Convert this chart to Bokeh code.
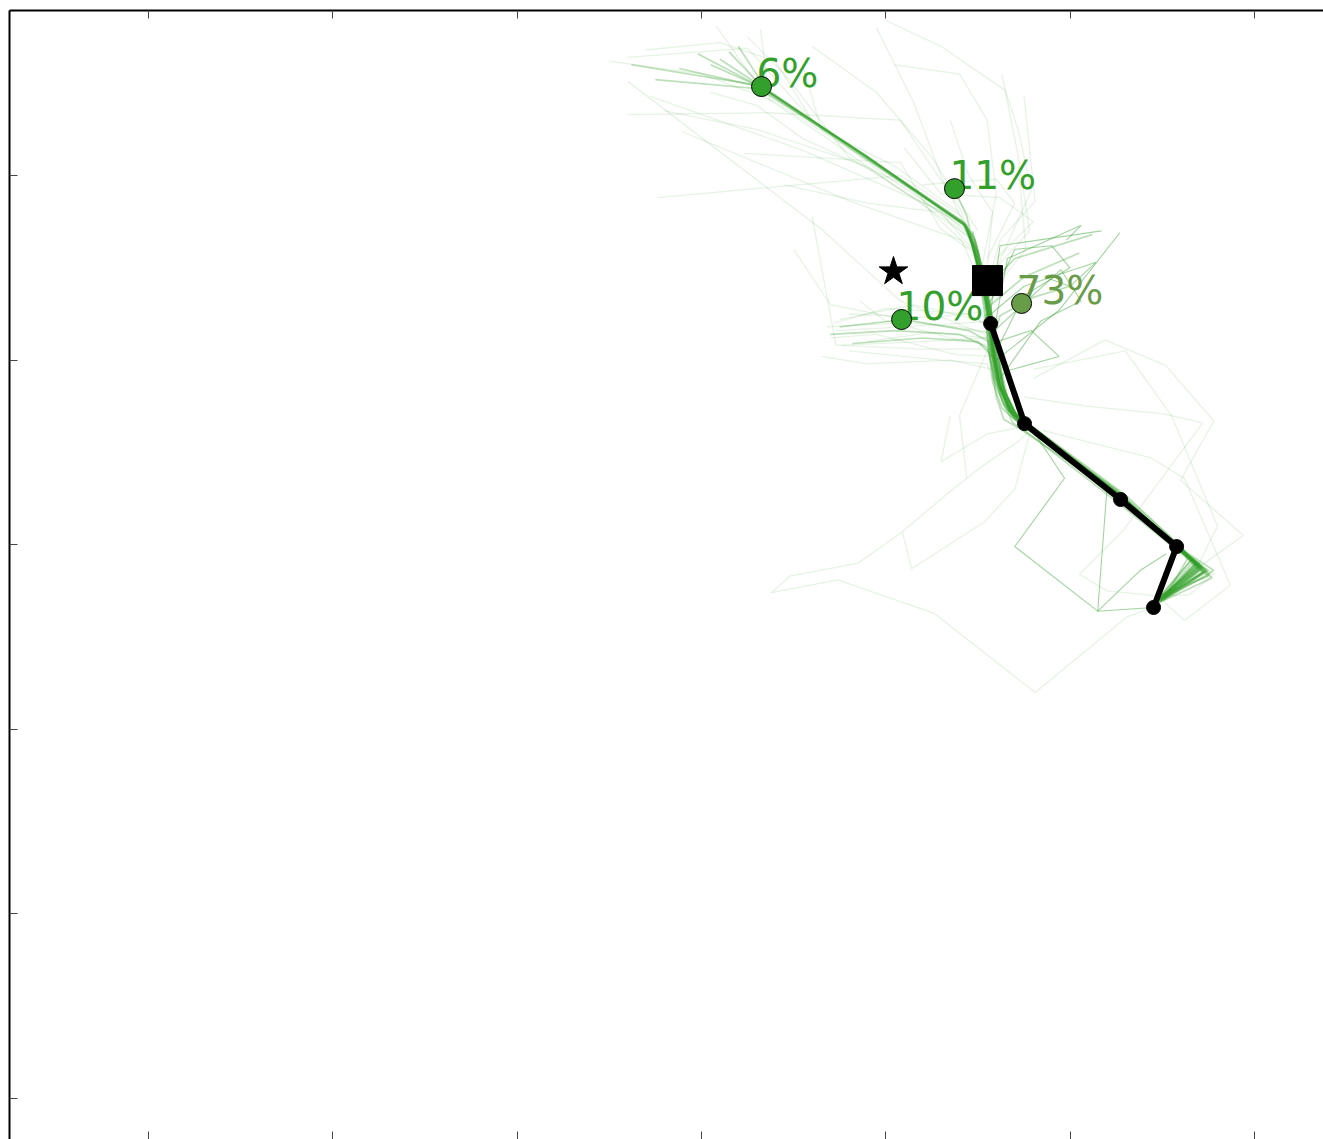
from bokeh.plotting import figure
from bokeh.models import Range1d, LinearAxis, FixedTicker
from bokeh.core.properties import value
from bokeh.embed import file_html
from bokeh.resources import INLINE

GREEN = "#33a02c"

# ---- data -------------------------------------------------------------
x_ticks = [0, 1, 2, 3, 4, 5, 6]
y_ticks = [0, 1, 2, 3, 4, 5]

# mean path (black)
path_x = [4.569, 4.753, 5.274, 5.578, 5.453]
path_y = [4.198, 3.656, 3.245, 2.990, 2.660]

square_x, square_y = [4.552], [4.431]
star_x, star_y = [4.042], [4.480]

cluster_x = [3.326, 4.373, 4.086, 4.737]
cluster_y = [5.482, 4.929, 4.220, 4.307]
cluster_labels = ["6%", "11%", "10%", "73%"]
cluster_colors = [GREEN, GREEN, GREEN, "#699c48"]

# dense bundle of trajectories
bundle_xs = [
    [3.10, 3.33, 3.88, 4.43, 4.48, 4.50, 4.54, 4.58, 4.62, 4.69, 4.79, 5.27, 5.58, 5.70, 5.49],
    [2.98, 3.34, 3.90, 4.42, 4.47, 4.51, 4.55, 4.59, 4.63, 4.70, 4.80, 5.28, 5.59, 5.72, 5.50],
    [3.20, 3.35, 3.87, 4.44, 4.49, 4.52, 4.55, 4.57, 4.61, 4.68, 4.77, 5.26, 5.57, 5.68, 5.48],
    [2.88, 3.32, 3.89, 4.43, 4.49, 4.52, 4.56, 4.60, 4.64, 4.71, 4.82, 5.29, 5.58, 5.73, 5.51],
    [4.37, 4.44, 4.49, 4.53, 4.57, 4.62, 4.69, 4.78, 5.27, 5.58, 5.69, 5.49],
    [3.75, 4.10, 4.45, 4.56, 4.61, 4.68, 4.78, 5.26, 5.57, 5.71, 5.48],
    [3.82, 4.20, 4.50, 4.58, 4.63, 4.70, 4.80, 5.27, 5.58, 5.70, 5.50],
    [5.12, 4.70, 4.55, 4.58, 4.62, 4.69, 4.79, 5.28, 5.59, 5.72, 5.49],
    [5.05, 4.75, 4.57, 4.59, 4.63, 4.70, 4.80, 5.27, 5.58, 5.69, 5.47],
    [4.46, 4.51, 4.55, 4.58, 4.60, 4.66, 4.76, 5.25, 5.56, 5.70, 5.49],
    [4.47, 4.52, 4.56, 4.60, 4.65, 4.72, 4.83, 5.30, 5.60, 5.74, 5.51],
    [4.50, 4.54, 4.57, 4.59, 4.62, 4.67, 4.77, 5.26, 5.57, 5.68, 5.48],
    [2.75, 3.31, 3.89, 4.43, 4.48, 4.51, 4.55, 4.58, 4.62, 4.69, 4.79, 5.27, 5.58, 5.71, 5.49],
    [2.62, 3.30, 3.88, 4.42, 4.47, 4.50, 4.53, 4.57, 4.61, 4.68, 4.78, 5.27, 5.58, 5.70, 5.49],
    [4.45, 4.50, 4.53, 4.56, 4.59, 4.65, 4.74, 5.24, 5.56, 5.66, 5.47],
    [4.48, 4.53, 4.58, 4.62, 4.66, 4.73, 4.84, 5.31, 5.61, 5.76, 5.52],
    [4.44, 4.49, 4.54, 4.57, 4.61, 4.67, 4.76, 5.25, 5.57, 5.67, 5.46],
    [4.46, 4.52, 4.57, 4.61, 4.64, 4.71, 4.81, 5.29, 5.59, 5.75, 5.50],
    [4.49, 4.53, 4.56, 4.58, 4.61, 4.66, 4.75, 5.26, 5.57, 5.72, 5.48],
    [4.43, 4.49, 4.55, 4.60, 4.65, 4.72, 4.82, 5.29, 5.60, 5.69, 5.51],
    [3.70, 4.05, 4.40, 4.55, 4.60, 4.66, 4.76, 5.26, 5.57, 5.74, 5.49],
    [5.00, 4.80, 4.62, 4.57, 4.60, 4.67, 4.77, 5.27, 5.58, 5.70, 5.47],
    [3.05, 3.32, 3.89, 4.42, 4.47, 4.51, 4.54, 4.58, 4.62, 4.70, 4.80, 5.28, 5.59, 5.73, 5.50],
    [3.15, 3.34, 3.90, 4.44, 4.48, 4.52, 4.56, 4.60, 4.64, 4.71, 4.81, 5.28, 5.59, 5.71, 5.49],
    [4.47, 4.51, 4.54, 4.57, 4.59, 4.64, 4.74, 5.25, 5.57, 5.78, 5.45],
    [4.45, 4.50, 4.55, 4.59, 4.63, 4.70, 4.79, 5.28, 5.58, 5.64, 5.53],
    [4.48, 4.52, 4.55, 4.58, 4.62, 4.68, 4.78, 5.27, 5.58, 5.77, 5.47],
    [4.46, 4.51, 4.55, 4.58, 4.61, 4.67, 4.78, 5.27, 5.58, 5.66, 5.50],
    [4.55, 4.57, 4.60, 4.64, 4.74, 5.24, 5.55, 5.70, 5.48],
    [4.56, 4.59, 4.63, 4.69, 4.78, 5.27, 5.58, 5.75, 5.50],
    [4.54, 4.56, 4.58, 4.63, 4.72, 5.25, 5.57, 5.68, 5.47],
    [4.57, 4.60, 4.65, 4.71, 4.81, 5.30, 5.60, 5.72, 5.49],
]
bundle_ys = [
    [5.63, 5.48, 5.11, 4.73, 4.62, 4.49, 4.32, 4.08, 3.86, 3.70, 3.63, 3.26, 2.99, 2.88, 2.70],
    [5.66, 5.47, 5.10, 4.75, 4.63, 4.47, 4.30, 4.05, 3.84, 3.68, 3.62, 3.25, 2.98, 2.87, 2.71],
    [5.70, 5.47, 5.12, 4.72, 4.60, 4.46, 4.33, 4.10, 3.88, 3.72, 3.64, 3.27, 3.00, 2.90, 2.69],
    [5.58, 5.48, 5.10, 4.74, 4.64, 4.50, 4.35, 4.06, 3.83, 3.69, 3.61, 3.24, 2.98, 2.85, 2.70],
    [4.93, 4.78, 4.55, 4.38, 4.12, 3.87, 3.71, 3.63, 3.26, 2.99, 2.89, 2.70],
    [4.18, 4.22, 4.16, 4.10, 3.86, 3.70, 3.62, 3.26, 2.99, 2.87, 2.71],
    [4.09, 4.12, 4.10, 4.02, 3.83, 3.69, 3.61, 3.25, 2.98, 2.86, 2.70],
    [4.68, 4.55, 4.40, 4.10, 3.85, 3.70, 3.63, 3.26, 2.99, 2.88, 2.69],
    [4.58, 4.45, 4.30, 4.07, 3.87, 3.71, 3.63, 3.27, 3.00, 2.88, 2.70],
    [4.66, 4.48, 4.31, 4.08, 3.90, 3.75, 3.66, 3.28, 3.01, 2.90, 2.71],
    [4.70, 4.52, 4.28, 4.02, 3.82, 3.68, 3.60, 3.24, 2.97, 2.86, 2.71],
    [4.60, 4.40, 4.20, 4.00, 3.85, 3.72, 3.65, 3.27, 2.99, 2.89, 2.70],
    [5.52, 5.47, 5.11, 4.73, 4.61, 4.45, 4.29, 4.06, 3.85, 3.69, 3.62, 3.26, 2.99, 2.89, 2.70],
    [5.60, 5.49, 5.10, 4.74, 4.62, 4.48, 4.33, 4.09, 3.87, 3.71, 3.64, 3.26, 2.99, 2.87, 2.70],
    [4.68, 4.50, 4.30, 4.05, 3.88, 3.74, 3.67, 3.29, 3.01, 2.92, 2.70],
    [4.66, 4.46, 4.22, 3.98, 3.80, 3.67, 3.59, 3.23, 2.96, 2.84, 2.72],
    [4.72, 4.55, 4.35, 4.10, 3.89, 3.73, 3.65, 3.28, 3.00, 2.91, 2.68],
    [4.70, 4.48, 4.26, 4.04, 3.84, 3.70, 3.62, 3.25, 2.98, 2.83, 2.73],
    [4.62, 4.44, 4.28, 4.09, 3.91, 3.76, 3.67, 3.29, 3.00, 2.85, 2.69],
    [4.74, 4.56, 4.34, 4.03, 3.81, 3.66, 3.59, 3.24, 2.97, 2.90, 2.72],
    [4.14, 4.16, 4.14, 4.07, 3.88, 3.73, 3.65, 3.28, 3.00, 2.86, 2.70],
    [4.40, 4.34, 4.24, 4.06, 3.90, 3.74, 3.65, 3.27, 2.99, 2.89, 2.69],
    [5.60, 5.48, 5.11, 4.74, 4.63, 4.48, 4.31, 4.07, 3.86, 3.70, 3.62, 3.25, 2.98, 2.86, 2.71],
    [5.67, 5.47, 5.10, 4.73, 4.61, 4.47, 4.32, 4.07, 3.85, 3.70, 3.63, 3.26, 2.99, 2.88, 2.70],
    [4.69, 4.52, 4.33, 4.07, 3.90, 3.76, 3.68, 3.29, 3.00, 2.86, 2.67],
    [4.71, 4.50, 4.29, 4.03, 3.86, 3.71, 3.64, 3.26, 2.99, 2.93, 2.74],
    [4.64, 4.47, 4.30, 4.06, 3.87, 3.72, 3.64, 3.27, 2.99, 2.82, 2.68],
    [4.67, 4.49, 4.31, 4.06, 3.89, 3.72, 3.64, 3.26, 2.99, 2.92, 2.73],
    [4.20, 4.00, 3.80, 3.68, 3.62, 3.28, 3.02, 2.88, 2.71],
    [4.15, 3.95, 3.78, 3.66, 3.60, 3.22, 2.97, 2.86, 2.70],
    [4.25, 4.05, 3.88, 3.74, 3.66, 3.30, 3.02, 2.90, 2.69],
    [4.20, 3.98, 3.82, 3.70, 3.63, 3.27, 2.99, 2.85, 2.71],
]

# faint stray trajectories
stray_xs = [
    [4.00, 4.30, 4.65, 4.72, 4.79, 4.62, 4.54, 4.58, 4.63, 4.70, 4.80, 5.27, 5.58],
    [4.75, 4.81, 4.62, 4.55],
    [2.60, 3.25, 3.60, 4.10, 4.44, 4.50],
    [2.60, 3.65, 4.08, 4.54, 4.60],
    [2.60, 3.36, 4.08, 4.41, 4.47],
    [2.76, 4.08, 4.41, 4.48],
    [3.23, 4.08, 4.30, 4.45],
    [3.08, 3.30, 3.90, 4.43, 4.49],
    [2.72, 3.54, 4.30, 4.45],
    [2.89, 3.81, 4.41, 4.50],
    [3.32, 3.37, 3.70, 4.08, 4.43],
    [4.72, 4.76, 4.60],
    [3.73, 4.10, 4.57, 4.60],
    [3.76, 4.20, 4.58, 4.62],
    [3.86, 4.00, 4.40, 4.56],
    [3.70, 3.95, 4.38, 4.58],
    [3.80, 4.25, 4.52, 4.57],
    [3.60, 3.73, 4.20, 4.55],
    [4.55, 4.40, 4.44],
    [3.38, 3.48, 3.85, 4.09, 4.35, 4.53, 4.72, 4.79],
    [3.38, 3.74, 4.26, 4.81, 5.31, 5.45],
    [4.09, 4.14, 4.53, 4.70, 4.78],
    [4.80, 5.19, 5.52, 5.78, 5.60, 5.94, 5.70],
    [4.75, 5.10, 5.50, 5.72, 5.29, 5.05, 5.20, 5.50],
    [4.85, 5.44, 5.62, 5.87, 5.62, 5.50],
    [5.58, 5.78, 5.65, 5.52],
    [2.50, 3.00, 3.40, 3.95, 4.42],
    [2.70, 3.10, 3.40, 3.60, 4.00, 4.45],
    [3.25, 3.45, 3.80, 4.20, 4.48],
    [2.80, 3.30, 3.90, 4.46],
    [3.55, 3.65, 4.05, 4.40],
    [3.95, 4.15, 4.30, 4.47],
    [4.05, 4.40, 4.55, 4.60, 4.52],
    [3.45, 3.90, 4.30, 4.47],
    [4.20, 4.60, 4.70, 4.55],
    [3.72, 4.00, 4.45, 4.57],
    [3.80, 4.30, 4.55, 4.62],
    [3.65, 3.90, 4.35, 4.58],
    [4.80, 5.30, 5.55, 5.80, 5.70],
    [4.35, 4.30, 4.55, 4.75],
    [3.05, 3.30, 3.55, 4.10, 4.46],
    [3.60, 3.95, 4.25, 4.50],
    [4.63, 4.72, 4.78, 4.60],
    [4.35, 4.45, 4.58, 4.55],
    [4.10, 4.30, 4.62, 4.80, 4.60],
    [3.68, 4.05, 4.35, 4.57],
    [3.75, 4.15, 4.50, 4.58],
    [3.90, 4.25, 4.55],
    [3.50, 3.70, 4.20, 4.55],
]
stray_ys = [
    [5.84, 5.70, 5.46, 5.24, 4.92, 4.54, 4.32, 4.08, 3.86, 3.70, 3.63, 3.26, 2.99],
    [5.43, 4.86, 4.65, 4.40],
    [5.64, 5.69, 5.30, 4.95, 4.72, 4.50],
    [5.51, 4.71, 4.32, 4.14, 3.95],
    [5.33, 5.34, 5.30, 4.81, 4.62],
    [4.88, 5.00, 4.78, 4.60],
    [5.12, 5.07, 4.71, 4.60],
    [5.81, 5.50, 5.10, 4.74, 4.55],
    [5.43, 5.14, 4.81, 4.68],
    [5.24, 4.86, 4.65, 4.45],
    [5.79, 5.41, 5.19, 4.92, 4.73],
    [5.05, 4.60, 4.40],
    [4.16, 4.18, 4.21, 3.95],
    [4.08, 4.06, 4.06, 3.86],
    [4.32, 4.21, 4.18, 4.15],
    [4.12, 4.14, 4.03, 4.02],
    [4.25, 4.23, 4.26, 4.10],
    [4.78, 4.08, 4.10, 4.12],
    [4.05, 3.70, 3.36],
    [2.74, 2.83, 2.90, 3.07, 3.29, 3.43, 3.56, 3.63],
    [2.74, 2.81, 2.63, 2.20, 2.61, 2.66],
    [3.07, 2.87, 3.12, 3.30, 3.60],
    [3.90, 4.11, 3.97, 3.67, 3.35, 3.05, 2.88],
    [3.80, 3.75, 3.71, 3.66, 3.08, 2.84, 2.75, 2.72],
    [3.62, 3.47, 3.36, 2.78, 2.59, 2.70],
    [2.99, 2.84, 2.73, 2.72],
    [5.62, 5.55, 5.40, 5.05, 4.74],
    [5.68, 5.72, 5.62, 5.30, 5.00, 4.70],
    [5.75, 5.55, 5.10, 4.85, 4.58],
    [5.35, 5.25, 5.05, 4.66],
    [5.60, 5.25, 5.05, 4.80],
    [5.80, 5.40, 5.00, 4.64],
    [5.60, 5.55, 5.30, 4.90, 4.50],
    [4.95, 4.85, 4.80, 4.60],
    [4.95, 4.98, 4.85, 4.55],
    [4.20, 4.28, 4.25, 4.18],
    [4.05, 4.00, 3.98, 3.80],
    [4.02, 3.98, 4.00, 3.95],
    [3.95, 4.05, 3.70, 3.10, 2.90],
    [3.70, 3.45, 3.60, 3.64],
    [5.45, 5.38, 5.20, 4.95, 4.66],
    [5.70, 5.45, 5.10, 4.70],
    [5.55, 5.10, 4.70, 4.50],
    [5.30, 5.00, 4.80, 4.50],
    [5.15, 4.90, 4.88, 4.75, 4.55],
    [4.18, 4.20, 4.12, 4.08],
    [4.22, 4.30, 4.22, 4.15],
    [4.10, 4.15, 4.12],
    [4.60, 4.30, 4.20, 4.15],
]

# more visible trajectories
strong_xs = [
    [4.56, 4.62, 5.17],
    [4.58, 4.66, 5.06, 4.98],
    [4.57, 4.75, 5.14, 5.00, 4.86],
    [5.27, 4.94, 4.60],
    [4.60, 4.79, 4.94, 4.65],
    [4.58, 4.95, 5.06, 4.84, 4.62],
    [4.56, 4.70, 4.90, 5.00, 4.75, 4.60],
    [4.79, 4.97, 4.70, 5.15, 5.45],
    [4.80, 5.20, 5.15, 5.38, 5.52],
]
strong_ys = [
    [4.20, 4.62, 4.70],
    [4.12, 4.55, 4.73, 4.65],
    [4.25, 4.40, 4.53, 4.40, 4.45],
    [4.69, 4.27, 4.00],
    [4.10, 4.16, 4.02, 3.94],
    [4.15, 4.49, 4.32, 4.21, 3.90],
    [4.30, 4.60, 4.62, 4.50, 4.35, 4.05],
    [3.63, 3.36, 2.99, 2.64, 2.66],
    [3.60, 3.30, 2.64, 2.86, 2.95],
]

# ---- figure -----------------------------------------------------------
p = figure(width=1323, height=1139,
           x_range=Range1d(-0.754, 6.375), y_range=Range1d(-0.222, 5.894),
           output_backend="svg", toolbar_location=None,
           x_axis_location=None, y_axis_location=None,
           min_border_left=9, min_border_top=10, min_border_right=0, min_border_bottom=0)
p.outline_line_color = None
p.grid.visible = False
p.background_fill_color = "white"
p.border_fill_color = "white"


def make_axis(ticks, line=True):
    ax = LinearAxis(ticker=FixedTicker(ticks=ticks))
    ax.axis_line_color = "black" if line else None
    ax.axis_line_width = 2
    ax.major_tick_in = 8
    ax.major_tick_out = 0
    ax.major_tick_line_color = "#444444"
    ax.minor_tick_line_color = None
    ax.major_label_overrides = {t: "" for t in ticks}
    ax.major_label_text_font_size = "1px"
    ax.major_label_standoff = 0
    return ax


p.add_layout(make_axis(y_ticks), "left")
p.add_layout(make_axis(x_ticks), "above")
p.add_layout(make_axis(x_ticks, line=False), "below")

p.multi_line(stray_xs, stray_ys, line_color=GREEN, line_alpha=0.12, line_width=1.3)
p.multi_line(bundle_xs, bundle_ys, line_color=GREEN, line_alpha=0.33, line_width=1.7)
p.multi_line(strong_xs, strong_ys, line_color=GREEN, line_alpha=0.45, line_width=1.1)

p.line(path_x, path_y, line_color="black", line_width=6)
p.scatter(path_x, path_y, size=14, fill_color="black", line_color="black")

p.text(cluster_x, cluster_y, text=cluster_labels, text_color=cluster_colors,
       text_font=value("DejaVu Sans"), text_font_size="39px",
       text_align="left", text_baseline="alphabetic", x_offset=-5, y_offset=-13)
p.scatter(cluster_x, cluster_y, size=20, fill_color=cluster_colors,
          line_color="black", line_width=1)

p.scatter(square_x, square_y, marker="square", size=30, fill_color="black", line_color="black")
p.scatter(star_x, star_y, marker="star", size=30, fill_color="black", line_color="black")

open("out.html", "w").write(file_html(p, INLINE))
